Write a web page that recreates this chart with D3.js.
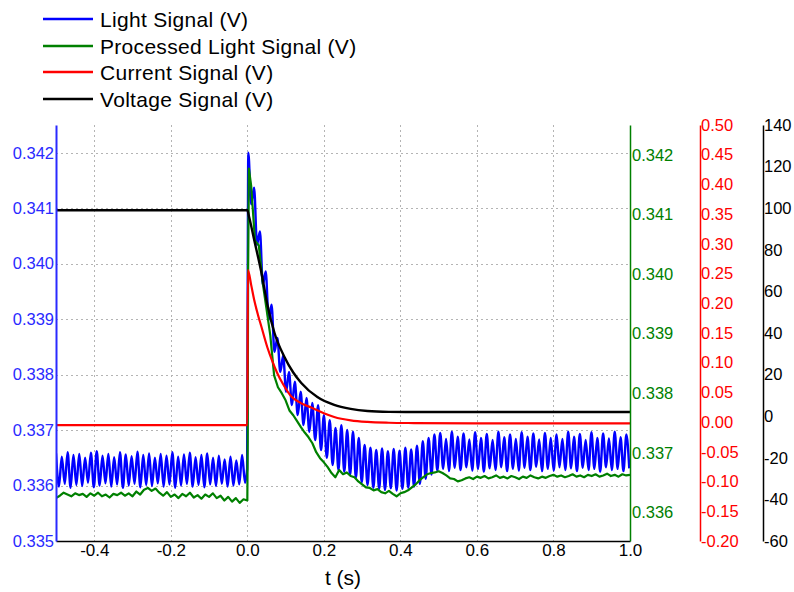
<!DOCTYPE html>
<html>
<head>
<meta charset="utf-8" />
<script src="https://cdn.jsdelivr.net/npm/d3@7"></script>
<style>
  body { margin: 0; background: #fff; }
  svg text { font-family: Arial, "Liberation Sans", sans-serif; }
</style>
</head>
<body>
<svg id="chart"></svg>
<script>
// ---- data ----
var seriesNames = ['Light Signal (V)', 'Processed Light Signal (V)', 'Current Signal (V)', 'Voltage Signal (V)'];
var seriesColors = ['#0000ff', '#008000', '#ff0000', '#000000'];

var xTicks = [-0.4, -0.2, 0.0, 0.2, 0.4, 0.6, 0.8, 1.0];
var lightTicks = [0.335, 0.336, 0.337, 0.338, 0.339, 0.340, 0.341, 0.342];
var procTicks = [0.336, 0.337, 0.338, 0.339, 0.340, 0.341, 0.342];
var currentTicks = [-0.20, -0.15, -0.10, -0.05, 0.00, 0.05, 0.10, 0.15, 0.20, 0.25, 0.30, 0.35, 0.40, 0.45, 0.50];
var voltageTicks = [-60, -40, -20, 0, 20, 40, 60, 80, 100, 120, 140];

// light signal: peak / trough samples, half a mains period apart
var lightDt = 0.0076;
var lightPreStart = -0.5;
var lightPre = [
  0.33658, 0.33598, 0.33652, 0.33603, 0.33660, 0.33596, 0.33655, 0.33601, 0.33657, 0.33599,
  0.33650, 0.33605, 0.33659, 0.33597, 0.33662, 0.33600, 0.33654, 0.33604, 0.33657, 0.33598,
  0.33651, 0.33602, 0.33660, 0.33596, 0.33656, 0.33600, 0.33653, 0.33603, 0.33661, 0.33597,
  0.33655, 0.33601, 0.33658, 0.33599, 0.33650, 0.33604, 0.33657, 0.33598, 0.33654, 0.33602,
  0.33660, 0.33596, 0.33652, 0.33600, 0.33656, 0.33603, 0.33659, 0.33598, 0.33651, 0.33601,
  0.33655, 0.33597, 0.33658, 0.33602, 0.33650, 0.33599, 0.33654, 0.33603, 0.33647, 0.33598,
  0.33652, 0.33600, 0.33645, 0.33602, 0.33655, 0.33605
];
var lightStepT = [-0.0005, 0.001];
var lightStepV = [0.33630, 0.33960];
var lightPostStart = 0.0025;
var lightPost = [
  0.34200, 0.34107, 0.34137, 0.34034, 0.34058, 0.33962, 0.33986, 0.33899, 0.33926, 0.33841,
  0.33866, 0.33805, 0.33834, 0.33769, 0.33805, 0.33745, 0.33787, 0.33727, 0.33769, 0.33709,
  0.33758, 0.33697, 0.33749, 0.33682, 0.33745, 0.33664, 0.33727, 0.33650, 0.33718, 0.33637,
  0.33704, 0.33628, 0.33709, 0.33625, 0.33700, 0.33619, 0.33697, 0.33614, 0.33686, 0.33606,
  0.33673, 0.33601, 0.33668, 0.33596,
  0.33664, 0.33594, 0.33667, 0.33592, 0.33662, 0.33595, 0.33666, 0.33591, 0.33663, 0.33594,
  0.33668, 0.33596, 0.33665, 0.33598,
  0.33672, 0.33603, 0.33680, 0.33612, 0.33686, 0.33620, 0.33692,
  0.33627, 0.33695, 0.33630, 0.33684, 0.33626, 0.33697, 0.33632, 0.33688, 0.33628, 0.33694,
  0.33633, 0.33683, 0.33627, 0.33696, 0.33630, 0.33686, 0.33625, 0.33693, 0.33631, 0.33682,
  0.33628, 0.33697, 0.33633, 0.33687, 0.33626, 0.33692, 0.33630, 0.33684, 0.33627, 0.33696,
  0.33632, 0.33688, 0.33628, 0.33694, 0.33634, 0.33683, 0.33626, 0.33695, 0.33630, 0.33686,
  0.33627, 0.33692, 0.33633, 0.33684, 0.33628, 0.33697, 0.33631, 0.33688, 0.33626, 0.33693,
  0.33632, 0.33682, 0.33628, 0.33696, 0.33630, 0.33686, 0.33625, 0.33694, 0.33633, 0.33685,
  0.33628, 0.33697, 0.33630, 0.33687, 0.33626, 0.33692, 0.33631
];

// processed light signal, sampled every 10 ms
var procDt = 0.01;
var procPre = [
  0.33624, 0.33628, 0.33633, 0.33630, 0.33627, 0.33632, 0.33629, 0.33631, 0.33626, 0.33632,
  0.33628, 0.33633, 0.33627, 0.33630, 0.33625, 0.33631, 0.33629, 0.33633, 0.33628, 0.33632,
  0.33627, 0.33635, 0.33630, 0.33638, 0.33641, 0.33636, 0.33640, 0.33633, 0.33628, 0.33634,
  0.33626, 0.33630, 0.33624, 0.33631, 0.33627, 0.33633, 0.33625, 0.33629, 0.33623, 0.33630,
  0.33626, 0.33632, 0.33624, 0.33628, 0.33620, 0.33626, 0.33618, 0.33624, 0.33616, 0.33622
];
var procStepT = [0.0, 0.001, 0.002, 0.004];
var procStepV = [0.33620, 0.33720, 0.34000, 0.34177];
var procPost = [
  0.34148, 0.34056, 0.34048, 0.33986, 0.33942, 0.33897, 0.33830, 0.33810, 0.33800, 0.33788,
  0.33771, 0.33763, 0.33753, 0.33743, 0.33734, 0.33726, 0.33716, 0.33701, 0.33691, 0.33684,
  0.33676, 0.33666, 0.33659, 0.33671, 0.33664, 0.33667, 0.33661, 0.33659, 0.33652, 0.33647,
  0.33642, 0.33641, 0.33637, 0.33639, 0.33634, 0.33632, 0.33636, 0.33631, 0.33627, 0.33632,
  0.33634, 0.33637, 0.33642, 0.33647, 0.33654, 0.33659, 0.33664, 0.33666, 0.33667, 0.33669,
  0.33666, 0.33662, 0.33657, 0.33656, 0.33652, 0.33654,
  0.33657, 0.33659, 0.33656, 0.33660, 0.33658, 0.33661, 0.33657, 0.33659, 0.33662, 0.33658,
  0.33660, 0.33657, 0.33661, 0.33659, 0.33656, 0.33660, 0.33658, 0.33662, 0.33659, 0.33657,
  0.33660, 0.33658, 0.33661, 0.33663, 0.33660, 0.33662, 0.33659, 0.33661, 0.33664, 0.33660,
  0.33662, 0.33659, 0.33663, 0.33661, 0.33664, 0.33660, 0.33662, 0.33665, 0.33661, 0.33663,
  0.33660, 0.33664, 0.33662, 0.33663
];

var currentT = [-0.5, 0.0, 0.0015, 0.01, 0.018, 0.028, 0.037, 0.052, 0.065, 0.078, 0.095, 0.115,
                0.14, 0.167, 0.2, 0.227, 0.27, 0.314, 0.37, 0.436, 0.6, 0.8, 1.0];
var currentV = [-0.005, -0.005, 0.256, 0.231, 0.2055, 0.180, 0.160, 0.1265, 0.103, 0.0827, 0.062, 0.043,
                0.032, 0.0245, 0.015, 0.0087, 0.003, 0.0003, -0.001, -0.0015, -0.002, -0.002, -0.002];

var voltageT = [-0.5, 0.0, 0.005, 0.018, 0.037, 0.052, 0.071, 0.097, 0.12, 0.141, 0.183, 0.227,
                0.27, 0.314, 0.37, 0.436, 0.6, 0.8, 1.0];
var voltageV = [99.0, 99.0, 95.5, 84.7, 68.8, 54.0, 40.0, 28.5, 21.0, 16.0, 9.2, 5.4,
                3.5, 2.5, 2.1, 2.0, 2.0, 2.0, 2.0];

// ---- layout ----
var W = 794, H = 592;
var plotL = 56, plotR = 630, plotT = 125, plotB = 541;
var redAxisX = 700, blackAxisX = 763;

var svg = d3.select('#chart').attr('width', W).attr('height', H);
svg.append('rect').attr('width', W).attr('height', H).attr('fill', '#fff');

var x = d3.scaleLinear().domain([-0.5, 1.0]).range([plotL, plotR]);
var yLight = d3.scaleLinear().domain([0.335, 0.3425]).range([plotB, plotT]);
var yProc = d3.scaleLinear().domain([0.33552, 0.3425]).range([plotB, plotT]);
var yCurrent = d3.scaleLinear().domain([-0.20, 0.50]).range([plotB, plotT]);
var yVoltage = d3.scaleLinear().domain([-60, 140]).range([plotB, plotT]);

// grid
var grid = svg.append('g').attr('stroke', '#b4b4b4').attr('stroke-width', 1).attr('stroke-dasharray', '2,3');
grid.selectAll('.hg').data(lightTicks.slice(1)).enter().append('line')
  .attr('x1', plotL).attr('x2', plotR)
  .attr('y1', function(d) { return Math.round(yLight(d)) + 0.5; })
  .attr('y2', function(d) { return Math.round(yLight(d)) + 0.5; });
grid.selectAll('.vg').data(xTicks.slice(0, -1)).enter().append('line')
  .attr('y1', plotT).attr('y2', plotB)
  .attr('x1', function(d) { return Math.round(x(d)) + 0.5; })
  .attr('x2', function(d) { return Math.round(x(d)) + 0.5; });

// data
svg.append('clipPath').attr('id', 'plot-clip').append('rect')
  .attr('x', plotL).attr('y', plotT - 2).attr('width', plotR - plotL).attr('height', plotB - plotT + 2);

var lightData = lightPre.map(function(v, i) { return [lightPreStart + i * lightDt, v]; })
  .concat(lightStepT.map(function(t, i) { return [t, lightStepV[i]]; }))
  .concat(lightPost.map(function(v, i) { return [lightPostStart + i * lightDt, v]; }));
var procData = procPre.map(function(v, i) { return [-0.5 + i * procDt, v]; })
  .concat(procStepT.map(function(t, i) { return [t, procStepV[i]]; }))
  .concat(procPost.map(function(v, i) { return [(i + 1) * procDt, v]; }));
var currentData = currentT.map(function(t, i) { return [t, currentV[i]]; });
var voltageData = voltageT.map(function(t, i) { return [t, voltageV[i]]; });

function lineFor(yScale, curve) {
  return d3.line()
    .x(function(d) { return x(d[0]); })
    .y(function(d) { return yScale(d[1]); })
    .curve(curve);
}

var plot = svg.append('g').attr('clip-path', 'url(#plot-clip)').attr('fill', 'none')
  .attr('stroke-linejoin', 'round');
plot.append('path').datum(lightData).attr('stroke', seriesColors[0]).attr('stroke-width', 2.4)
  .attr('d', lineFor(yLight, d3.curveMonotoneX));
plot.append('path').datum(procData).attr('stroke', seriesColors[1]).attr('stroke-width', 2.2)
  .attr('d', lineFor(yProc, d3.curveLinear));
plot.append('path').datum(currentData).attr('stroke', seriesColors[2]).attr('stroke-width', 2.2)
  .attr('d', lineFor(yCurrent, d3.curveMonotoneX));
plot.append('path').datum(voltageData).attr('stroke', seriesColors[3]).attr('stroke-width', 2.4)
  .attr('d', lineFor(yVoltage, d3.curveMonotoneX));

// axes
function styleAxis(g, color, width, size) {
  g.select('.domain').attr('stroke', color).attr('stroke-width', width);
  g.selectAll('.tick line').remove();
  g.selectAll('.tick text').attr('fill', color).style('font-size', size + 'px');
}

var xAxis = svg.append('g').attr('transform', 'translate(0,' + plotB + ')')
  .call(d3.axisBottom(x).tickValues(xTicks).tickSize(0).tickSizeOuter(0).tickPadding(3)
    .tickFormat(function(d) { return d.toFixed(1); }));
styleAxis(xAxis, '#000', 1.5, 17);

var lightAxis = svg.append('g').attr('transform', 'translate(' + plotL + ',0)')
  .call(d3.axisLeft(yLight).tickValues(lightTicks).tickSize(0).tickSizeOuter(0).tickPadding(2)
    .tickFormat(function(d) { return d.toFixed(3); }));
styleAxis(lightAxis, '#2a2aff', 2, 16.5);

var procAxis = svg.append('g').attr('transform', 'translate(' + plotR + ',0)')
  .call(d3.axisRight(yProc).tickValues(procTicks).tickSize(0).tickSizeOuter(0).tickPadding(2)
    .tickFormat(function(d) { return d.toFixed(3); }));
styleAxis(procAxis, '#008000', 1.5, 16.5);

var currentAxis = svg.append('g').attr('transform', 'translate(' + redAxisX + ',0)')
  .call(d3.axisRight(yCurrent).tickValues(currentTicks).tickSize(0).tickSizeOuter(0).tickPadding(1)
    .tickFormat(function(d) { return d.toFixed(2); }));
styleAxis(currentAxis, '#ff0000', 1.5, 16.5);

var voltageAxis = svg.append('g').attr('transform', 'translate(' + blackAxisX + ',0)')
  .call(d3.axisRight(yVoltage).tickValues(voltageTicks).tickSize(0).tickSizeOuter(0).tickPadding(1)
    .tickFormat(function(d) { return String(d); }));
styleAxis(voltageAxis, '#000', 1.5, 16.5);

svg.append('text').attr('x', (plotL + plotR) / 2).attr('y', 585).attr('text-anchor', 'middle')
  .style('font-size', '21px').attr('fill', '#000').text('t (s)');

// legend
var legend = svg.append('g');
var rowY = [19, 46, 72, 99];
seriesNames.forEach(function(name, i) {
  legend.append('line').attr('x1', 43).attr('x2', 93).attr('y1', rowY[i]).attr('y2', rowY[i])
    .attr('stroke', seriesColors[i]).attr('stroke-width', 2.5);
  legend.append('text').attr('x', 100).attr('y', rowY[i]).attr('dy', '0.36em')
    .style('font-size', '21px').style('letter-spacing', '0.3px').attr('fill', '#000').text(name);
});
</script>
</body>
</html>
